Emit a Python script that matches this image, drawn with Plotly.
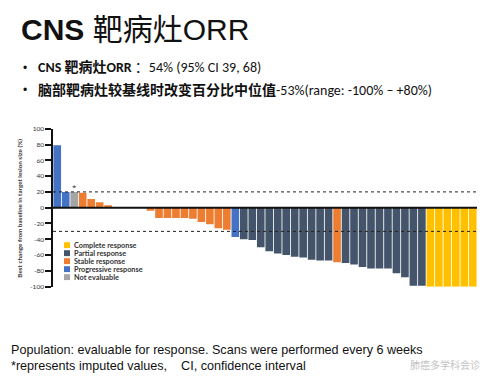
import plotly.graph_objects as go

# ---- data ----
patients = list(range(1, 51))
best_change = [79, 20, 20, 19, 11, 7, 3, 0, 0, 0, 0, -4, -13, -13, -13, -13, -14, -18, -21, -26,
               -28, -37, -40, -41, -50, -55, -58, -60, -62, -63, -66, -67, -67, -69, -70, -72, -75,
               -77, -77, -77, -83, -88, -99, -99, -100, -100, -100, -100, -100, -100]
response = (["PD", "PD", "NE"] + ["SD"] * 18 + ["PD"] + ["PR"] * 11 + ["SD"] + ["PR"] * 10 + ["CR"] * 6)
imputed_patients = [3]
ref_lines = [20, -30]
y_ticks = [100, 80, 60, 40, 20, 0, -20, -40, -60, -80, -100]
legend_order = ["CR", "PR", "SD", "PD", "NE"]
legend_labels = {"CR": "Complete response", "PR": "Partial response", "SD": "Stable response",
                 "PD": "Progressive response", "NE": "Not evaluable"}
colors = {"CR": "#FFC000", "PR": "#44546A", "SD": "#ED7D31", "PD": "#4472C4", "NE": "#A5A5A5"}

# page body has an 8px margin; figure sized to fit inside the 490x383 window
OFF = 8
W, H = 490 - 2 * OFF, 383 - 2 * OFF
def px(x): return (x - OFF) / W
def py(y): return 1 - (y - OFF) / H

fig = go.Figure()
fig.add_trace(go.Bar(
    x=patients, y=best_change,
    marker=dict(color=[colors[r] for r in response], line=dict(width=0)),
    showlegend=False,
))

font_main = "Liberation Sans, Arial, Noto Sans CJK SC, sans-serif"
font_cjk = "Calibri, Lato, Noto Sans CJK SC, sans-serif"

shapes = []
shapes.append(dict(type="line", xref="x domain", yref="y", x0=0, x1=1, y0=0, y1=0,
                   line=dict(color="#111", width=2), layer="above"))
for v in ref_lines:
    shapes.append(dict(type="line", xref="x domain", yref="y", x0=0, x1=1, y0=v, y1=v,
                       line=dict(color="#222", width=1, dash="dot"), layer="above"))

annotations = []
for p in imputed_patients:
    annotations.append(dict(x=p, y=best_change[p - 1], xref="x", yref="y", text="*",
                            showarrow=False, yanchor="bottom", yshift=-2, font=dict(size=8, color="#333")))

# compact legend
ly0, ldy = 245.7, 8.15
for i, k in enumerate(legend_order):
    yc = ly0 + i * ldy
    shapes.append(dict(type="rect", xref="paper", yref="paper",
                       x0=px(64), x1=px(70), y0=py(yc + 3), y1=py(yc - 3),
                       fillcolor=colors[k], line=dict(width=0)))
    annotations.append(dict(x=px(72), y=py(yc), xref="paper", yref="paper", text="<b>" + legend_labels[k] + "</b>",
                            showarrow=False, xanchor="left", yanchor="middle",
                            font=dict(size=7.3, color="#333", family="Lato, sans-serif")))

annotations.append(dict(x=px(19.5), y=py(208), xref="paper", yref="paper",
                        text="<b>Best change from baseline in target lesion size (%)</b>",
                        textangle=-90, showarrow=False, xanchor="center", yanchor="middle",
                        font=dict(size=6.3, color="#333", family="Lato, sans-serif")))

annotations.append(dict(x=px(19), y=py(26), xref="paper", yref="paper",
                        text="<b>CNS</b> 靶病灶ORR", showarrow=False, xanchor="left", yanchor="middle",
                        font=dict(size=30, color="#111", family=font_main)))
for yb in (65, 88):
    annotations.append(dict(x=px(25), y=py(yb), xref="paper", yref="paper", text="•",
                            showarrow=False, xanchor="center", yanchor="middle",
                            font=dict(size=12, color="#111", family=font_main)))
annotations.append(dict(x=px(36), y=py(65), xref="paper", yref="paper",
                        text="<b>CNS 靶病灶ORR</b> ：54% (95% CI 39, 68)", showarrow=False,
                        xanchor="left", yanchor="middle",
                        font=dict(size=14, color="#111", family=font_cjk)))
annotations.append(dict(x=px(36), y=py(88), xref="paper", yref="paper",
                        text="<b>脑部靶病灶较基线时改变百分比中位值</b>-53%(range: -100% – +80%)", showarrow=False,
                        xanchor="left", yanchor="middle",
                        font=dict(size=14, color="#111", family=font_cjk)))
annotations.append(dict(x=px(10), y=py(352.5), xref="paper", yref="paper",
                        text="Population: evaluable for response. Scans were performed every 6 weeks",
                        showarrow=False, xanchor="left", yanchor="middle", borderpad=0,
                        font=dict(size=12.6, color="#111", family=font_main)))
annotations.append(dict(x=px(10), y=py(369), xref="paper", yref="paper",
                        text="*represents imputed values,    CI, confidence interval",
                        showarrow=False, xanchor="left", yanchor="middle", borderpad=0,
                        font=dict(size=12.6, color="#111", family=font_main)))
annotations.append(dict(x=px(481), y=py(367), xref="paper", yref="paper",
                        text="肺癌多学科会诊", showarrow=False, xanchor="right", yanchor="middle", borderpad=0,
                        font=dict(size=10, color="rgba(150,150,150,0.6)", family="Noto Sans CJK SC")))

fig.update_layout(
    width=W, height=H, autosize=False,
    margin=dict(l=0, r=0, t=0, b=0),
    paper_bgcolor="white", plot_bgcolor="white",
    bargap=0.1,
    xaxis=dict(domain=[px(53), px(477)], range=[0.5, 50.5], visible=False),
    yaxis=dict(domain=[py(288), py(127)], range=[-100, 100],
               tickvals=y_ticks, ticktext=[str(t) for t in y_ticks],
               showline=True, linecolor="#111", linewidth=1.5,
               ticks="outside", ticklen=6, tickwidth=1.5, tickcolor="#111",
               tickfont=dict(size=6.5, color="#333", family="Lato, sans-serif"),
               showgrid=False, zeroline=False),
    shapes=shapes, annotations=annotations,
)

fig.write_html("out.html")
